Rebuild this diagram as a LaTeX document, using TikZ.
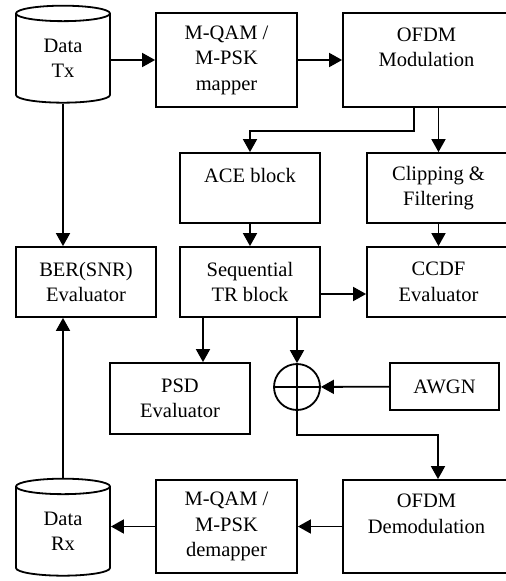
\documentclass[tikz,border=0pt]{standalone}
\usepackage{fontspec}
\setmainfont{Liberation Serif}
\usetikzlibrary{arrows.meta,positioning,shapes.geometric}

\begin{document}
\begin{tikzpicture}[
    x=1pt, y=-1pt,
    line width=1.8pt,
    every node/.style={font=\fontsize{20.5}{25.5}\selectfont},
    block/.style={rectangle, draw, align=center, inner sep=0pt},
    store/.style={cylinder, draw, shape border rotate=90, aspect=0.4, minimum width=94pt, minimum height=97pt, align=center, inner sep=0pt},
    adder/.style={circle, draw, minimum size=46pt, inner sep=0pt},
    arrow/.style={-{Triangle[length=13pt, width=14pt]}}
]
\useasboundingbox (0,0) rectangle (506,581);

% Transmitter chain
\node[store] (tx) at (63,58.5) {Data\\Tx};
\node[block, minimum width=141pt, minimum height=94pt] (map) at (226.5,60) {M-QAM /\\M-PSK\\mapper};
\node[block, minimum width=167pt, minimum height=94pt] (mod) at (426.5,60) {OFDM\\Modulation\\\mbox{}};

% PAPR reduction
\node[block, minimum width=140pt, minimum height=70pt] (ace) at (250,188) {ACE block\\\mbox{}};
\node[block, minimum width=143pt, minimum height=70pt] (clip) at (438.5,188) {Clipping \&\\Filtering};
\node[block, minimum width=140pt, minimum height=70pt] (seq) at (250,282) {Sequential\\TR block};
\node[block, minimum width=143pt, minimum height=70pt] (ccdf) at (438.5,282) {CCDF\\Evaluator};
\node[block, minimum width=140pt, minimum height=70pt] (ber) at (86,282) {BER(SNR)\\Evaluator};
\node[block, minimum width=140pt, minimum height=71pt] (psd) at (180,398.5) {PSD\\Evaluator};

% Channel
\node[adder] (sum) at (297,387) {};
\node[block, minimum width=109pt, minimum height=47pt] (awgn) at (444.5,386.5) {AWGN};

% Receiver chain
\node[block, minimum width=167pt, minimum height=93pt] (dem) at (426.5,526.5) {OFDM\\Demodulation\\\mbox{}};
\node[block, minimum width=141pt, minimum height=93pt] (demap) at (226.5,526.5) {M-QAM /\\M-PSK\\demapper};
\node[store] (rx) at (63,531.5) {Data\\Rx};

% Arrows
\draw[arrow] (tx.east |- map.west) -- (map.west);
\draw[arrow] (map) -- (mod);
\draw[arrow] ([xshift=-12.5pt]mod.south) -- ++(0,23) -| (ace.north);
\draw[arrow] (mod.south -| clip.north) -- (clip.north);
\draw[arrow] (ace) -- (seq);
\draw[arrow] (clip) -- (ccdf);
\draw[arrow] ([yshift=-12pt]seq.east) -- ([yshift=-12pt]seq.east -| ccdf.west);
\draw[arrow] (tx.south) -- (tx.south |- ber.north);
\draw[arrow] (rx.north) -- (rx.north |- ber.south);
\draw[arrow] ([xshift=-47pt]seq.south) -- ([xshift=-47pt]seq.south |- psd.north);
\draw[arrow] (seq.south -| sum.north) -- (sum.north);
\draw[arrow] (awgn) -- (sum);
\draw (sum.west) -- (sum.east);
\draw (sum.north) -- (sum.south);
\draw[arrow] (sum.south) -- ++(0,24) -| ([xshift=11.5pt]dem.north);
\draw[arrow] (dem) -- (demap);
\draw[arrow] (demap.west) -- (demap.west -| rx.east);
\end{tikzpicture}
\end{document}
